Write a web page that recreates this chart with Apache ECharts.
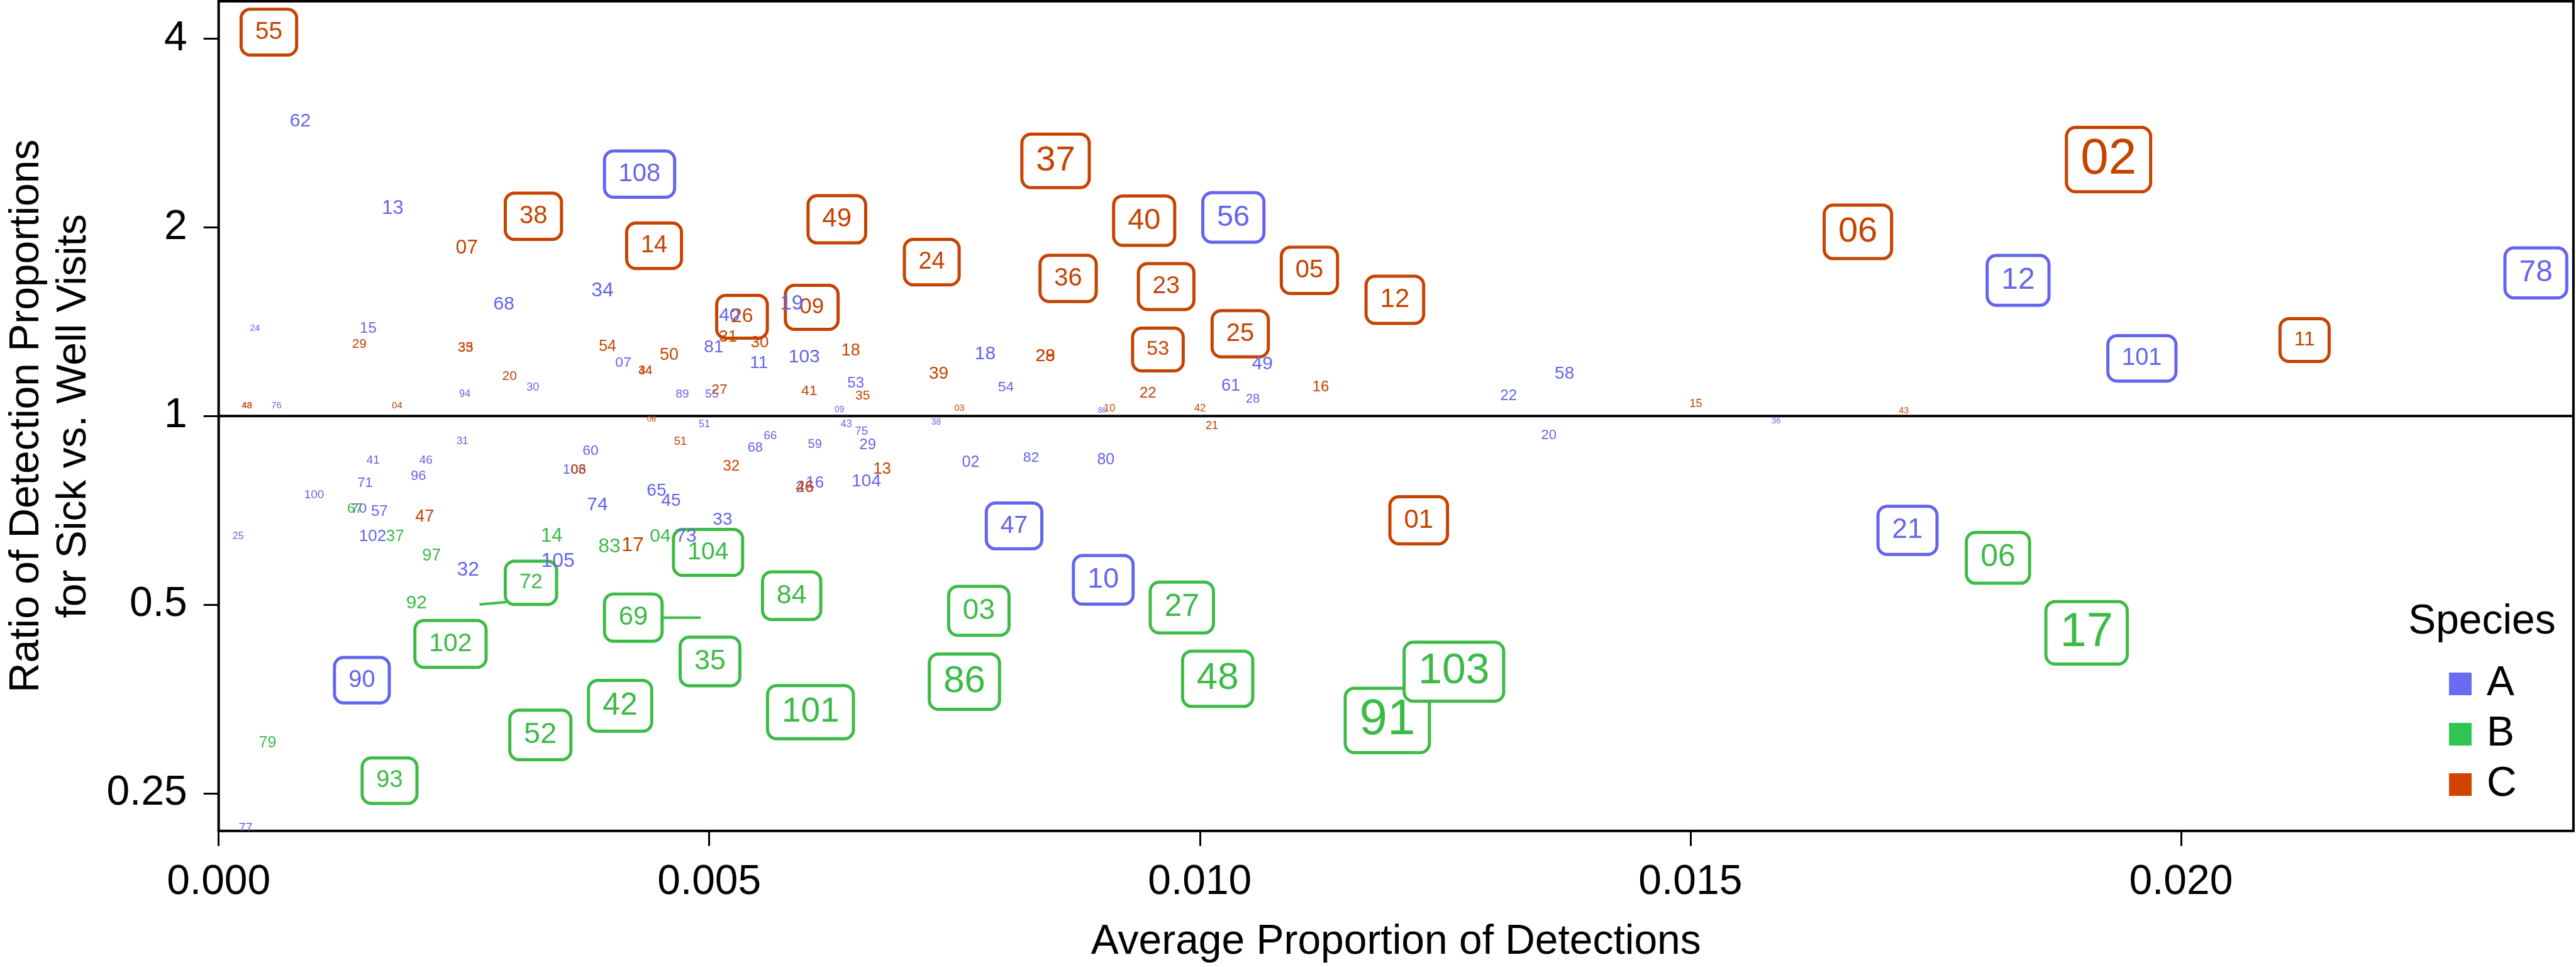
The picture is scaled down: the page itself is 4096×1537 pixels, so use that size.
<!DOCTYPE html>
<html><head><meta charset="utf-8">
<script src="https://cdn.jsdelivr.net/npm/echarts@6/dist/echarts.min.js"></script>
<style>html,body{margin:0;padding:0;background:#fff}#c{width:4096px;height:1537px}</style>
</head><body><div id="c"></div>
<script>
const S = 0.999;
const FONT = '"Liberation Sans", Arial, Helvetica, sans-serif';

// axes
const xTicks = [0, 0.005, 0.010, 0.015, 0.020];
const yTicks = [0.25, 0.5, 1, 2, 4];
const xMin = 0, xMax = 0.024;
const yMin = 0.2179, yMax = 4.589;
const refLine = 1;
const speciesNames = ['A', 'B', 'C'];

// [id, average proportion of detections, sick/well ratio, size, significant]
const speciesA = [
['62',0.000832,2.952,30,0],['13',0.001774,2.142,31,0],['108',0.004290,2.432,40,1],
['68',0.002907,1.508,30,0],['34',0.003913,1.583,32,0],['24',0.000371,1.378,14,0],
['15',0.001524,1.378,24,0],['07',0.004124,1.217,23,0],['30',0.003202,1.110,18,0],
['94',0.002510,1.084,16,0],['76',0.000589,1.038,15,0],['31',0.002485,0.912,17,0],
['41',0.001575,0.849,19,0],['46',0.002113,0.849,19,0],['60',0.003791,0.879,23,0],
['103',0.003624,0.820,22,0],['71',0.001492,0.781,22,0],['96',0.002036,0.801,22,0],
['100',0.000973,0.749,19,0],['70',0.001428,0.712,23,0],['57',0.001639,0.704,24,0],
['25',0.000199,0.642,16,0],['102',0.001569,0.642,26,0],['32',0.002542,0.568,32,0],
['105',0.003458,0.587,32,0],['74',0.003861,0.722,30,0],['90',0.001460,0.379,38,1],
['77',0.000275,0.220,20,0],['40',0.005206,1.447,30,0],['19',0.005840,1.512,33,0],
['81',0.005046,1.286,28,0],['103',0.005968,1.242,30,0],['11',0.005507,1.214,28,0],
['18',0.007812,1.257,30,0],['53',0.006493,1.128,24,0],['54',0.008024,1.110,23,0],
['89',0.004726,1.084,19,0],['55',0.005027,1.082,19,0],['09',0.006327,1.023,14,0],
['51',0.004950,0.970,16,0],['43',0.006397,0.970,16,0],['38',0.007313,0.977,14,0],
['66',0.005622,0.929,19,0],['75',0.006551,0.944,19,0],['68',0.005469,0.889,22,0],
['59',0.006077,0.901,20,0],['29',0.006615,0.899,24,0],['02',0.007665,0.843,25,0],
['82',0.008280,0.857,23,0],['104',0.006602,0.787,28,0],['16',0.006077,0.781,26,0],
['26',0.005975,0.769,26,0],['65',0.004463,0.760,28,0],['45',0.004611,0.732,28,0],
['33',0.005136,0.683,28,0],['73',0.004764,0.643,30,0],['47',0.008107,0.668,39,1],
['49',0.010637,1.211,30,0],['61',0.010316,1.117,27,0],['28',0.010540,1.064,20,0],
['88',0.009004,1.019,12,0],['22',0.013147,1.077,24,0],['58',0.013717,1.167,28,0],
['20',0.013557,0.931,22,0],['80',0.009042,0.851,25,0],['56',0.010342,2.074,47,1],
['10',0.009016,0.548,45,1],['12',0.018340,1.646,48,1],['101',0.019602,1.236,38,1],
['78',0.023617,1.692,48,1],['36',0.015875,0.982,13,0],['21',0.017213,0.657,44,1]
];
const speciesB = [
['67',0.001390,0.712,23,0],['37',0.001799,0.642,26,0],['97',0.002171,0.598,27,0],
['14',0.003394,0.643,31,0],['83',0.003983,0.619,32,0],['92',0.002017,0.503,30,0],
['79',0.000499,0.301,25,0],['04',0.004502,0.643,30,0],['72',0.003183,0.542,33,1],
['102',0.002363,0.433,41,1],['69',0.004226,0.477,42,1],['42',0.004092,0.345,50,1],
['52',0.003279,0.310,47,1],['93',0.001742,0.262,38,1],['104',0.004988,0.606,39,1],
['84',0.005840,0.517,43,1],['03',0.007748,0.489,46,1],['35',0.005008,0.406,45,1],
['101',0.006032,0.337,55,1],['86',0.007601,0.377,60,1],['27',0.009817,0.495,50,1],
['48',0.010182,0.381,60,1],['91',0.011911,0.327,80,1],['103',0.012590,0.391,68,1],
['06',0.018135,0.594,50,1],['17',0.019038,0.451,76,1]
];
// repel segments for species B: [x1, y1, x2, y2]
const segmentsB = [
[0.002658,0.5006,0.002933,0.505],
[0.004508,0.477,0.004912,0.477]
];
const speciesC = [
['55',0.000512,4.097,39,1],['38',0.003208,2.083,40,1],['07',0.002529,1.852,32,0],
['14',0.004438,1.869,38,1],['29',0.001434,1.301,21,0],['35',0.002517,1.286,22,0],
['33',0.002517,1.286,22,0],['54',0.003964,1.289,25,0],['34',0.004348,1.181,20,0],
['44',0.004348,1.181,20,0],['20',0.002965,1.156,21,0],['48',0.000288,1.038,15,0],
['43',0.000288,1.038,15,0],['04',0.001819,1.038,15,0],['08',0.004412,0.989,13,0],
['47',0.002100,0.690,27,0],['17',0.004220,0.622,32,0],['06',0.003669,0.820,22,0],
['49',0.006301,2.060,42,1],['37',0.008530,2.553,56,1],['24',0.007268,1.760,38,1],
['36',0.008658,1.658,40,1],['26',0.005334,1.440,32,1],['09',0.006045,1.491,35,1],
['31',0.005193,1.335,26,0],['30',0.005514,1.310,26,0],['50',0.004591,1.251,27,0],
['18',0.006442,1.271,27,0],['28',0.008427,1.245,28,0],['29',0.008427,1.245,28,0],
['39',0.007339,1.167,28,0],['35',0.006564,1.077,21,0],['27',0.005104,1.102,23,0],
['41',0.006019,1.097,23,0],['03',0.007550,1.028,14,0],['51',0.004707,0.910,18,0],
['32',0.005225,0.831,24,0],['13',0.006762,0.822,26,0],['46',0.005975,0.769,26,0],
['40',0.009433,2.050,47,1],['23',0.009657,1.609,39,1],['05',0.011117,1.708,40,1],
['12',0.011988,1.533,42,1],['53',0.009573,1.277,32,1],['25',0.010412,1.353,40,1],
['16',0.011232,1.112,24,0],['22',0.009471,1.087,24,0],['42',0.010003,1.028,16,0],
['10',0.009080,1.028,16,0],['21',0.010124,0.964,18,0],['15',0.015055,1.045,18,0],
['01',0.012231,0.682,42,1],['02',0.019262,2.565,80,1],['06',0.016707,1.967,56,1],
['11',0.021260,1.322,32,1],['43',0.017175,1.019,14,0]
];

const textCol = { A: '#6464EE', B: '#3DBB47', C: '#C64300' };
const keyCol = { A: '#6B6BF2', B: '#2FC553', C: '#D04400' };

function labelRenderer(rows, color) {
  return function (params, api) {
    const r = rows[params.dataIndex];
    const p = api.coord([api.value(0), api.value(1)]);
    const sz = api.value(2);
    const boxed = api.value(3) === 1;
    const style = {
      text: r[0], x: 0, y: 0, fill: color,
      fontSize: sz * S, fontFamily: FONT,
      align: 'center', verticalAlign: 'middle'
    };
    if (boxed) {
      Object.assign(style, {
        backgroundColor: '#ffffff', borderColor: color, borderWidth: 5 * S,
        borderRadius: 12 * S,
        padding: [Math.max(2, 20 - 0.142 * sz) * S, 20 * S]
      });
    }
    return { type: 'text', x: p[0], y: p[1], style: style, z2: boxed ? 10 : 20 };
  };
}

function labelSeries(name, rows) {
  return {
    type: 'custom', name: name, coordinateSystem: 'cartesian2d', clip: true,
    itemStyle: { color: keyCol[name] },
    encode: { x: 0, y: 1 },
    data: rows.map(r => [r[1], r[2], r[3], r[4]]),
    renderItem: labelRenderer(rows, textCol[name]),
    z: 3
  };
}

const chart = echarts.init(document.getElementById('c'), null, { renderer: 'canvas' });
chart.setOption({
  animation: false,
  backgroundColor: '#ffffff',
  grid: {
    left: 348 * S, top: 2 * S, width: 3748 * S, height: 1320 * S,
    show: true, borderColor: '#000', borderWidth: 4 * S, backgroundColor: 'transparent'
  },
  xAxis: {
    type: 'value', min: xMin, max: xMax,
    name: 'Average Proportion of Detections', nameLocation: 'middle', nameGap: 144 * S,
    nameTextStyle: { fontSize: 66 * S, fontFamily: FONT, color: '#000' },
    axisLine: { show: false },
    splitLine: { show: false },
    axisTick: { show: true, length: 24 * S, lineStyle: { color: '#000', width: 3 * S }, customValues: xTicks },
    axisLabel: { fontSize: 66 * S, fontFamily: FONT, color: '#000', margin: 49 * S,
      customValues: xTicks, formatter: v => Number(v).toFixed(3) }
  },
  yAxis: {
    type: 'log', logBase: 2, min: yMin, max: yMax,
    axisLine: { show: false },
    splitLine: { show: false },
    axisTick: { show: true, length: 24 * S, lineStyle: { color: '#000', width: 3 * S }, customValues: yTicks },
    axisLabel: { fontSize: 66 * S, fontFamily: FONT, color: '#000', margin: 50 * S,
      customValues: yTicks, formatter: v => String(v) }
  },
  title: {
    text: 'Species', left: 3833 * S, top: 957 * S, padding: 0,
    textStyle: { fontSize: 66 * S, fontFamily: FONT, fontWeight: 'normal', color: '#000' }
  },
  legend: {
    data: speciesNames, orient: 'vertical', left: 3898 * S, top: 1055 * S, padding: 0,
    icon: 'rect', itemWidth: 36 * S, itemHeight: 36 * S, itemGap: 14 * S,
    textStyle: { fontSize: 66 * S, fontFamily: FONT, color: '#000', padding: [0, 0, 0, 19 * S] },
    selectedMode: false
  },
  graphic: [{
    type: 'text', x: 80 * S, y: 662 * S, rotation: Math.PI / 2,
    style: {
      text: 'Ratio of Detection Proportions\nfor Sick vs. Well Visits',
      fontSize: 66 * S, fontFamily: FONT, fill: '#000',
      align: 'center', verticalAlign: 'middle', lineHeight: 75 * S
    }
  }],
  series: [
    {
      type: 'line', name: 'ref', data: [[xMin, refLine], [xMax, refLine]],
      symbol: 'none', silent: true, z: 2,
      lineStyle: { color: '#000', width: 4 * S }
    },
    {
      type: 'custom', name: 'segB', coordinateSystem: 'cartesian2d', clip: true,
      encode: { x: [0, 2], y: [1, 3] },
      data: segmentsB,
      renderItem: function (params, api) {
        const a = api.coord([api.value(0), api.value(1)]);
        const b = api.coord([api.value(2), api.value(3)]);
        return { type: 'line', shape: { x1: a[0], y1: a[1], x2: b[0], y2: b[1] },
          style: { stroke: textCol.B, lineWidth: 4 * S }, z2: 5 };
      },
      z: 3
    },
    labelSeries('A', speciesA),
    labelSeries('B', speciesB),
    labelSeries('C', speciesC)
  ]
});
</script>
</body></html>
